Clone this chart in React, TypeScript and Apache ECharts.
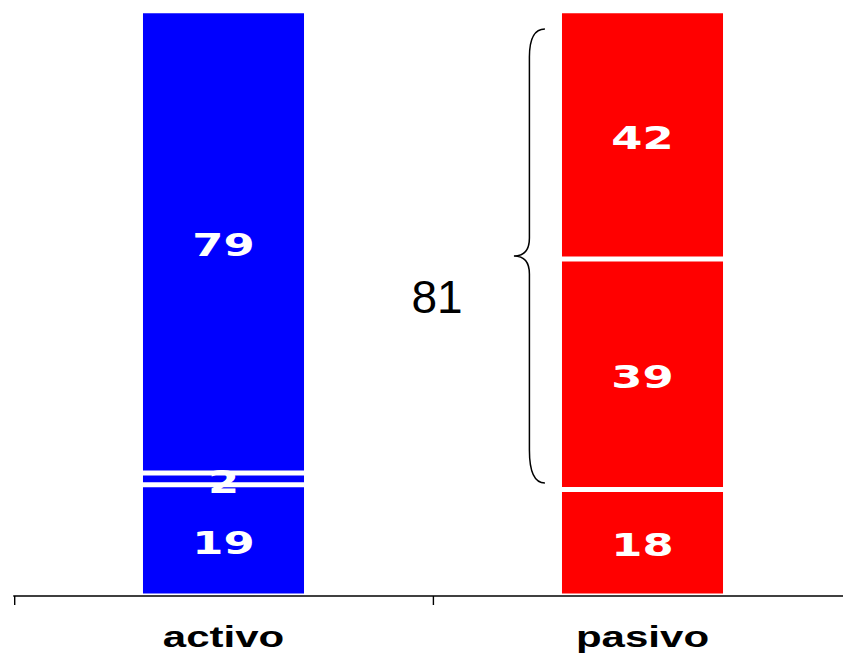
import React, { useEffect, useRef } from "react";
import * as echarts from "echarts";

const categories = ["activo", "pasivo"];
const bottomValues = [19, 18];
const middleValues = [2, 39];
const topValues = [79, 42];
const barColors = ["#0000FF", "#FF0000"];
const braceLabel = String(middleValues[1] + topValues[1]);

const PAGE_W = 843;
const PAGE_H = 654;
const S = 843 / 602;
const INNER_W = 612;

const BRACE_D =
  "M545,29 C535,29 529.5,38 529.5,57 L529.5,238 C529.5,250 524,256 514,256 C524,256 529.5,262 529.5,274 L529.5,450 C529.5,472 535,483 545,483";

let registered = false;
function ensureShape() {
  if (registered) return;
  echarts.graphic.registerShape("brace", echarts.graphic.extendPath(BRACE_D, {}) as any);
  registered = true;
}

export default function App() {
  const ref = useRef<HTMLDivElement>(null);
  useEffect(() => {
    if (!ref.current) return;
    ensureShape();
    const chart = echarts.init(ref.current, null, { renderer: "svg", width: INNER_W, height: PAGE_H });
    const totals = categories.map((_, i) => bottomValues[i] + middleValues[i] + topValues[i]);
    const layers = [bottomValues, middleValues, topValues];
    const series = layers.map((vals, li) => ({
      type: "bar",
      stack: "total",
      barWidth: 120,
      data: vals.map((v, i) => ({
        value: (v / totals[i]) * 100,
        raw: v,
        itemStyle: { color: barColors[i] },
      })),
      itemStyle: { borderColor: "#FFFFFF", borderWidth: 2.5 },
      label: {
        show: true,
        position: "inside",
        offset: [0, 2.5],
        color: "#FFFFFF",
        fontFamily: "DejaVu Sans",
        fontWeight: "bold",
        fontSize: 32,
        formatter: (p: any) => String(p.data.raw),
      },
      z: li === 1 ? 4 : 2,
    }));
    chart.setOption({
      animation: false,
      grid: { left: 14 / S, top: 10.8, width: 838 / S, bottom: 58 },
      xAxis: {
        type: "category",
        data: categories,
        z: 10,
        axisLine: { show: true, lineStyle: { color: "#000000", width: 1.5 } },
        axisTick: { show: true, length: 9, lineStyle: { color: "#000000", width: 1 } },
        axisLabel: {
          color: "#000000",
          fontFamily: "Liberation Sans",
          fontWeight: "bold",
          fontSize: 30,
          margin: 26,
        },
      },
      yAxis: { type: "value", min: 0, max: 100, show: false },
      series,
      graphic: [
        {
          type: "brace",
          x: 0,
          y: 0,
          scaleX: 1 / S,
          scaleY: 1,
          z: 20,
          style: { fill: "none", stroke: "#000000", lineWidth: 1.5 },
        },
        {
          type: "text",
          x: 437 / S,
          y: 297,
          scaleX: 1 / S,
          z: 20,
          style: {
            text: braceLabel,
            fill: "#000000",
            fontFamily: "Liberation Sans",
            fontSize: 46,
            align: "center",
            verticalAlign: "middle",
          },
        },
      ],
    });
    return () => chart.dispose();
  }, []);
  return (
    <div style={{ position: "absolute", left: 0, top: 0, width: PAGE_W, height: PAGE_H, overflow: "hidden", background: "#FFFFFF" }}>
      <div
        ref={ref}
        style={{ width: INNER_W, height: PAGE_H, transform: `scaleX(${S})`, transformOrigin: "0 0" }}
      />
    </div>
  );
}
